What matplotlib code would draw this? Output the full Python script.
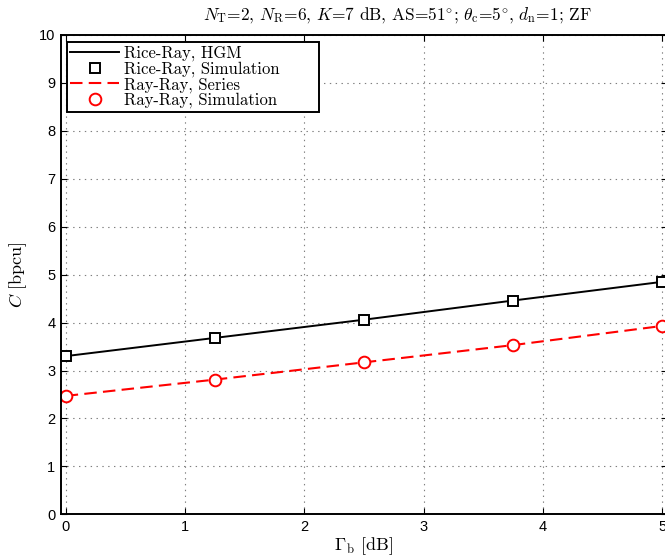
import matplotlib
matplotlib.use("Agg")
import matplotlib.pyplot as plt

plt.rcParams["mathtext.fontset"] = "cm"
plt.rcParams["lines.scale_dashes"] = False
plt.rcParams["axes.formatter.use_mathtext"] = False

# Capacity versus Gamma_b
gamma_b = [0, 1.25, 2.5, 3.75, 5]
rice_hgm = [3.30, 3.68, 4.06, 4.46, 4.85]
rice_sim = [3.30, 3.68, 4.06, 4.46, 4.85]
ray_series = [2.47, 2.81, 3.17, 3.53, 3.93]
ray_sim = [2.47, 2.81, 3.17, 3.53, 3.93]

x_ticks = [0, 1, 2, 3, 4, 5]
y_ticks = list(range(0, 11))

W, H = 665, 560
fig = plt.figure(figsize=(W / 100, H / 100), dpi=100)
left, right, top, bottom = 60.9, 667.0, 35.0, 514.3
ax = fig.add_axes([left / W, 1 - bottom / H, (right - left) / W, (bottom - top) / H])

cm_font = ["cmr10", "DejaVu Serif"]

l1, = ax.plot(gamma_b, rice_hgm, color="black", lw=1.4, label="Rice-Ray, HGM")
m1, = ax.plot(gamma_b, rice_sim, ls="none", marker="s", ms=6.6, mfc="white",
              mec="black", mew=1.4, label="Rice-Ray, Simulation")
l2, = ax.plot(gamma_b, ray_series, color="red", lw=1.5, dashes=(9, 4.5),
              label="Ray-Ray, Series")
m2, = ax.plot(gamma_b, ray_sim, ls="none", marker="o", ms=8.4, mfc="white",
              mec="red", mew=1.4, label="Ray-Ray, Simulation")

ax.set_xlim(-0.04, 5.04)
ax.set_ylim(0, 10)
ax.set_xticks(x_ticks)
ax.set_yticks(y_ticks)
ax.tick_params(direction="in", top=True, right=True, length=4, width=0.8,
               labelsize=10.5, pad=4)
for lab in ax.get_xticklabels() + ax.get_yticklabels():
    lab.set_family("Liberation Sans")
for s in ax.spines.values():
    s.set_linewidth(1.4)

ax.grid(True, color="#7f7f7f", linestyle=(0, (1, 3.2)), linewidth=0.8)
ax.set_axisbelow(True)

ax.set_xlabel(r"$\Gamma_{\rm b}$ [dB]", family=cm_font, fontsize=13, labelpad=1)
ax.set_ylabel(r"$C$ [bpcu]", family=cm_font, fontsize=13, labelpad=7)

fig.text(397 / W, 1 - 20 / H,
         r"$N_{\rm T}$=2, $N_{\rm R}$=6, $K$=7 dB, AS=51$^{\circ}$; "
         r"$\theta_{\rm c}$=5$^{\circ}$, $d_{\rm n}$=1; ZF",
         family=cm_font, fontsize=12.5, ha="center", va="baseline")

# legend box spans a fixed width in the upper-left corner
bx0 = (67 - left) / (right - left)
bx1 = (319 - left) / (right - left)
by1 = (bottom - 42) / (bottom - top)
leg = ax.legend(handles=[l1, m1, l2, m2], loc="upper left",
                bbox_to_anchor=(bx0, by1 - 0.2, bx1 - bx0, 0.2), mode="expand",
                borderaxespad=0, fancybox=False, framealpha=1, edgecolor="black",
                prop={"family": cm_font, "size": 12}, handlelength=2.9,
                handletextpad=0.3, labelspacing=0.0, borderpad=0.2)
leg.get_frame().set_linewidth(1.4)

fig.savefig("out.png", dpi=100)
